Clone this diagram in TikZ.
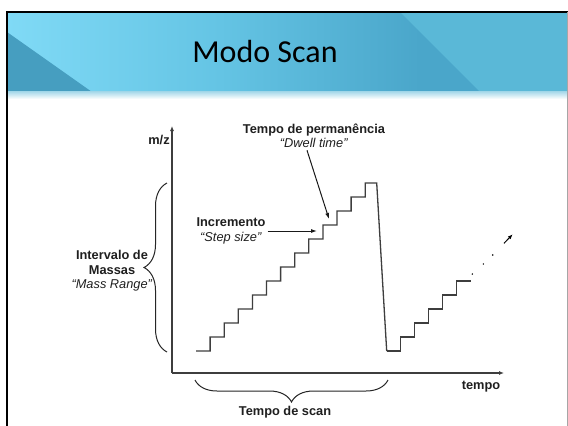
\documentclass[tikz,border=0pt]{standalone}
\usepackage{fontspec}
\setmainfont{Liberation Sans}
\newfontfamily\titlefont{Carlito}
\usetikzlibrary{arrows.meta,decorations.pathreplacing,positioning}

\definecolor{headlight}{RGB}{128,218,246}
\definecolor{headmid}{RGB}{100,196,228}
\definecolor{headdark}{RGB}{74,166,202}
\definecolor{headright}{RGB}{90,184,215}
\definecolor{wedge}{RGB}{70,158,192}
\definecolor{strip}{RGB}{160,214,232}
\definecolor{stair}{RGB}{62,62,62}

\tikzset{
	note/.style={
		% The text:
		font=\fontsize{12.8}{14.5}\selectfont,
		align=center,
		text=black!88,
		inner sep=2pt,
	}}
\tikzset{
	axis/.style={
		% The line:
		line width=1.4pt,
		draw=stair,
		% The tip:
		-{Latex[length=5pt,width=4pt]},
	}}
\tikzset{
	pointer/.style={
		line width=1pt,
		draw=black!90,
		-{Latex[length=6pt,width=4pt]},
	}}
\tikzset{
	stairline/.style={
		line width=1.3pt,
		draw=stair,
		line join=miter,
	}}
\tikzset{
	bracket/.style={
		line width=1pt,
		draw=black!85,
		decorate,
	}}

\begin{document}
\begin{tikzpicture}[x=1pt,y=-1pt]
	\useasboundingbox (0,0) rectangle (568,426);
	\fill[white] (0,0) rectangle (568,426);

	% slide header
	\shade[left color=headlight,right color=headmid] (7,12) rectangle (220,92);
	\shade[left color=headmid,right color=headdark] (220,12) rectangle (420,92);
	\fill[headdark] (420,12) rectangle (567,92);
	\fill[headright] (400,12) -- (567,12) -- (567,92) -- (480,92) -- cycle;
	\fill[wedge] (7,32) -- (92,92) -- (7,92) -- cycle;
	\shade[top color=strip,bottom color=white] (7,91) rectangle (567,99);
	\draw[black,line width=2pt] (6,11.5) -- (568,11.5);
	\draw[black,line width=2.5pt] (7,11) -- (7,426);
	\draw[black!35,line width=1pt] (567,12) -- (567,426);
	\node[font=\titlefont\fontsize{32}{38}\selectfont] (title) at (265,52) {Modo Scan};

	% axes
	\coordinate (origin) at (172,373);
	\coordinate (ytop) at (172,126);
	\coordinate (xend) at (504,373);
	\draw[axis] (origin) -- (ytop);
	\draw[axis] (origin) -- (xend);
	\node[note,font=\bfseries\fontsize{12.8}{14.5}\selectfont] (mz) at (159,140) {m/z};
	\node[note,font=\bfseries\fontsize{12.8}{14.5}\selectfont] (tempo) at (481,387) {tempo};

	% first scan: 12 steps up, then fall back
	\draw[stairline] (196,351)
		\foreach \i in {1,...,12} { -- ++(14.1,0) -- ++(0,-14) }
		-- ++(11.5,0) coordinate (peak)
		-- (386.7,351) coordinate (restart);
	% second scan, only started
	\draw[stairline] (restart)
		\foreach \i in {1,...,5} { -- ++(14,0) -- ++(0,-14) }
		-- ++(14,0) coordinate (lastpt);
	\foreach \p in {(472.3,274),(483.3,264),(492.7,255)}
		\fill[black] \p circle (0.8);
	\coordinate (trendA) at (504,243.3);
	\coordinate (trendB) at (512.7,234.3);
	\draw[line width=1pt,-{Latex[length=5pt,width=4pt]}] (trendA) -- (trendB);

	% labels and pointers
	\node[note] (dwell) at (314,136) {\textbf{Tempo de permanência}\\\textit{“Dwell time”}};
	\coordinate (dwellpt) at (329,219);
	\draw[pointer] ([xshift=-7pt]dwell.south) -- (dwellpt);

	\node[note] (step) at (231,231) {\textbf{Incremento}\\\textit{“Step size”}};
	\coordinate (steppt) at (317,232);
	\draw[pointer] (step.east) -- (step.east -| steppt);

	% braces
	\draw[bracket,decoration={brace,amplitude=23pt}] (167,352) -- (167,183) coordinate[pos=0.5] (rangemid);
	\node[note] (range) at (112,271) {\textbf{Intervalo de}\\\textbf{Massas}\\\textit{“Mass Range”}};

	\draw[bracket,decoration={brace,amplitude=22pt}] (388,380) -- (195,380);
	\node[note,font=\bfseries\fontsize{12.8}{14.5}\selectfont] (scan) at (285,412) {Tempo de scan};
\end{tikzpicture}
\end{document}
